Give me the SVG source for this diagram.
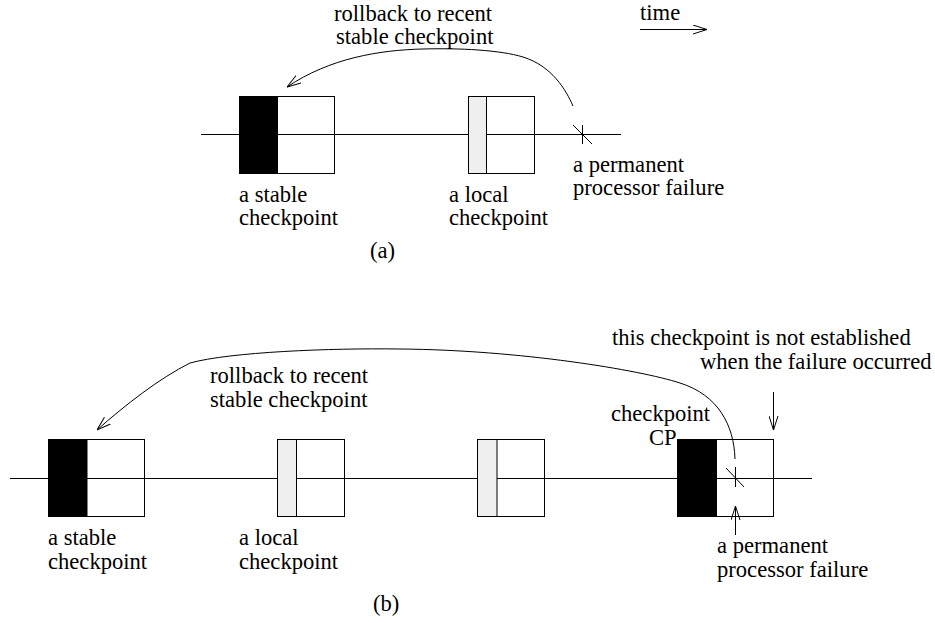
<svg xmlns="http://www.w3.org/2000/svg" width="935" height="623" viewBox="0 0 935 623">
  <style>
    .txt { font-family: "Liberation Serif", "Times New Roman", serif; font-size: 22.6px; fill: #000; }
    .ln { stroke: #000; stroke-width: 1; fill: none; }
    .box { stroke: #000; stroke-width: 1; fill: #fff; }
    .stable { fill: #000; stroke: #000; stroke-width: 1; }
    .local { fill: #efefef; stroke: #000; stroke-width: 1; }
    .arr { stroke: #000; stroke-width: 1; fill: none; marker-end: url(#open); }
  </style>
  <defs>
    <marker id="open" markerUnits="userSpaceOnUse" viewBox="0 0 14 10" refX="14" refY="5" markerWidth="14" markerHeight="10" orient="auto">
      <path d="M0,0.5 L14,5 L0,9.5" fill="none" stroke="#000" stroke-width="1"/>
    </marker>
  </defs>
  <rect width="935" height="623" fill="#fff"/>

  <!-- ===== (a) ===== -->
  <g id="timeline-a">
    <line class="ln" x1="201" y1="134.5" x2="621" y2="134.5"/>
  </g>

  <g id="a-stable-checkpoint">
    <rect class="box" x="239.5" y="96.5" width="95" height="77"/>
    <rect class="stable" x="239.5" y="96.5" width="38" height="77"/>
    <line class="ln" x1="277.5" y1="134.5" x2="334.5" y2="134.5"/>
    <text class="txt" x="239" y="202">a stable</text>
    <text class="txt" x="239" y="225">checkpoint</text>
  </g>

  <g id="a-local-checkpoint">
    <rect class="box" x="468.5" y="96.5" width="66" height="77"/>
    <rect class="local" x="468.5" y="96.5" width="18" height="77"/>
    <line class="ln" x1="486.5" y1="134.5" x2="534.5" y2="134.5"/>
    <text class="txt" x="449" y="202">a local</text>
    <text class="txt" x="449" y="225">checkpoint</text>
  </g>

  <g id="a-failure">
    <line class="ln" x1="573" y1="125" x2="592" y2="144"/>
    <line class="ln" x1="582.5" y1="125" x2="582.5" y2="144"/>
    <text class="txt" x="573" y="172">a permanent</text>
    <text class="txt" x="573" y="195">processor failure</text>
  </g>

  <g id="a-rollback-label">
    <text class="txt" x="334" y="21">rollback to recent</text>
    <text class="txt" x="336" y="44">stable checkpoint</text>
  </g>

  <g id="time-label">
    <text class="txt" x="640" y="20">time</text>
  </g>

  <text class="txt" x="370" y="258">(a)</text>

  <!-- ===== (b) ===== -->
  <g id="timeline-b">
    <line class="ln" x1="10" y1="478.5" x2="812" y2="478.5"/>
  </g>

  <g id="b-stable-checkpoint">
    <rect class="box" x="48.5" y="439.5" width="96" height="77"/>
    <rect class="stable" x="48.5" y="439.5" width="38.5" height="77"/>
    <line class="ln" x1="87" y1="478.5" x2="144.5" y2="478.5"/>
    <text class="txt" x="48" y="545">a stable</text>
    <text class="txt" x="48" y="569">checkpoint</text>
  </g>

  <g id="b-local-checkpoint-1">
    <rect class="box" x="277.5" y="439.5" width="67" height="77"/>
    <rect class="local" x="277.5" y="439.5" width="19" height="77"/>
    <line class="ln" x1="296.5" y1="478.5" x2="344.5" y2="478.5"/>
    <text class="txt" x="239" y="545">a local</text>
    <text class="txt" x="239" y="569">checkpoint</text>
  </g>

  <g id="b-local-checkpoint-2">
    <rect class="box" x="477.5" y="439.5" width="67" height="77"/>
    <rect class="local" x="477.5" y="439.5" width="19.5" height="77"/>
    <line class="ln" x1="497" y1="478.5" x2="544.5" y2="478.5"/>
  </g>

  <g id="b-checkpoint-cp">
    <rect class="box" x="677.5" y="439.5" width="96" height="77"/>
    <rect class="stable" x="677.5" y="439.5" width="39" height="77"/>
    <line class="ln" x1="716.5" y1="478.5" x2="773.5" y2="478.5"/>
    <text class="txt" x="611" y="421">checkpoint</text>
    <text class="txt" x="649" y="445">CP</text>
  </g>

  <g id="b-failure">
    <line class="ln" x1="726" y1="468" x2="744" y2="487"/>
    <line class="ln" x1="735.5" y1="467" x2="735.5" y2="487"/>
    <text class="txt" x="717" y="553">a permanent</text>
    <text class="txt" x="717" y="577">processor failure</text>
  </g>

  <g id="b-not-established-note">
    <text class="txt" x="612" y="345">this checkpoint is not established</text>
    <text class="txt" x="700" y="369">when the failure occurred</text>
  </g>

  <g id="b-rollback-label">
    <text class="txt" x="210" y="383">rollback to recent</text>
    <text class="txt" x="210" y="407">stable checkpoint</text>
  </g>

  <text class="txt" x="373" y="611">(b)</text>

  <!-- connectors -->
  <g id="connectors">
    <!-- time direction -->
    <line class="arr" x1="640" y1="29.5" x2="707" y2="29.5"/>
    <!-- (a) rollback from the failure to the stable checkpoint -->
    <path class="arr" d="M573,106 C566,90 552,66 523,57 C500,50 460,48 423,49 C380,50 330,58 287,87"/>
    <!-- (b) rollback from the failure to the stable checkpoint -->
    <path class="arr" d="M735,459 C734,425 718,395 680,383 C640,370 520,350 400,349 C330,348 230,352 190,363 C160,378 125,405 97,430"/>
    <!-- pointer to the unfinished checkpoint -->
    <line class="arr" x1="773.5" y1="392" x2="773.5" y2="430"/>
    <!-- pointer to the failure point -->
    <line class="arr" x1="735.5" y1="535" x2="735.5" y2="506"/>
  </g>
</svg>
